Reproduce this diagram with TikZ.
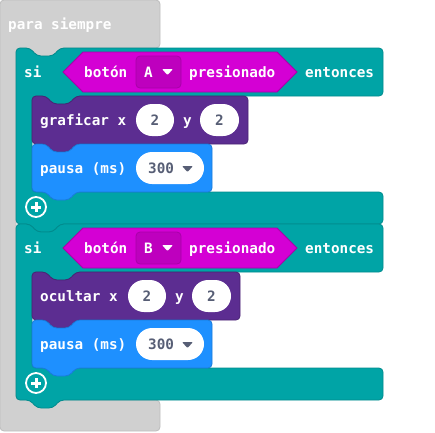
\documentclass[tikz,border=0pt]{standalone}
\usepackage{fontspec}
\newfontfamily\blockfont{DejaVu Sans Mono}
\usepackage{tikz}
\definecolor{loopgray}{HTML}{D0D0D0}
\definecolor{loopedge}{HTML}{BDBDBD}
\definecolor{logicteal}{HTML}{00A4A6}
\definecolor{logicedge}{HTML}{008B8D}
\definecolor{inputmag}{HTML}{D400D4}
\definecolor{inputedge}{HTML}{A800A8}
\definecolor{dropmag}{HTML}{BE00BE}
\definecolor{ledpurple}{HTML}{5C2D91}
\definecolor{lededge}{HTML}{4A2474}
\definecolor{basicblue}{HTML}{1E90FF}
\definecolor{basicedge}{HTML}{1A7AD9}
\definecolor{numgray}{HTML}{575E75}
\newcommand{\loopcol}{loopgray}
\newcommand{\ifcol}{logicteal}
\newcommand{\btncol}{inputmag}
\newcommand{\ledcol}{ledpurple}
\newcommand{\waitcol}{basicblue}
\tikzset{
  blocklabel/.style={anchor=base west, inner sep=0pt, text=white,
    font=\blockfont\bfseries\fontsize{14.3}{16}\selectfont},
  numlabel/.style={anchor=base, inner sep=0pt, text=numgray,
    font=\blockfont\bfseries\fontsize{14.3}{16}\selectfont},
  block/.style={rounded corners=4pt, line width=0.8pt},
  field/.style={fill=white, rounded corners=16pt},
  plusicon/.style={draw=white, line width=1.8pt},
}

\begin{document}
\begin{tikzpicture}[x=1pt, y=-1pt]
  \useasboundingbox (0, 0) rectangle (435, 432);

  \filldraw[block, fill=\loopcol, draw=loopedge] (0, 0) -- (160, 0) -- (160, 48) -- (60, 48) -- (53, 56) -- (37, 56) -- (30, 48) -- (16, 48) -- (16, 400) -- (160, 400) -- (160, 431) -- (0, 431) -- cycle;
  \node[blocklabel] (forever) at (8, 29) {para siempre};

  \filldraw[block, fill=\ifcol, draw=logicedge] (16, 48) -- (30, 48) -- (37, 56) -- (53, 56) -- (60, 48) -- (383, 48) -- (383, 96) -- (76, 96) -- (69, 104) -- (53, 104) -- (46, 96) -- (32, 96) -- (32, 192) -- (383, 192) -- (383, 224) -- (60, 224) -- (53, 232) -- (37, 232) -- (30, 224) -- (16, 224) -- cycle;
  \filldraw[fill=\btncol, draw=inputedge, line width=0.8pt] (63, 72) -- (83, 52) -- (277, 52) -- (297, 72) -- (277, 92) -- (83, 92) -- cycle;
  \filldraw[fill=dropmag, draw=inputedge, rounded corners=4pt, line width=0.8pt] (136, 56) rectangle (181, 88);
  \fill[white, rounded corners=1pt] (162, 69) -- (173, 69) -- (167.5, 75) -- cycle;
  \node[blocklabel] (si1) at (24, 77) {si};
  \node[blocklabel] (btn1) at (84, 77) {botón};
  \node[blocklabel] (btnA) at (144, 77) {A};
  \node[blocklabel] (press1) at (189, 77) {presionado};
  \node[blocklabel] (then1) at (305, 77) {entonces};

  \filldraw[block, fill=\ledcol, draw=lededge] (32, 96) -- (46, 96) -- (53, 104) -- (69, 104) -- (76, 96) -- (248, 96) -- (248, 144) -- (76, 144) -- (69, 152) -- (53, 152) -- (46, 144) -- (32, 144) -- cycle;
  \node[blocklabel] (plot) at (40, 125) {graficar x};
  \fill[field] (136, 104) rectangle (174, 136);
  \node[numlabel] (plotx) at (155, 125) {2};
  \node[blocklabel] (ploty) at (183, 125) {y};
  \fill[field] (200, 104) rectangle (239, 136);
  \node[numlabel] (plotyval) at (219.5, 125) {2};

  \filldraw[block, fill=\waitcol, draw=basicedge] (32, 144) -- (46, 144) -- (53, 152) -- (69, 152) -- (76, 144) -- (212, 144) -- (212, 192) -- (76, 192) -- (69, 200) -- (53, 200) -- (46, 192) -- (32, 192) -- cycle;
  \node[blocklabel] (pause1) at (40, 173) {pausa (ms)};
  \fill[field] (136, 152) rectangle (204, 184);
  \node[numlabel, anchor=base west] (ms1) at (148, 173) {300};
  \fill[numgray, rounded corners=1pt] (182, 166) -- (193, 166) -- (187.5, 172) -- cycle;

  \draw[plusicon] (36, 207) circle (10);
  \draw[white, line width=3pt] (31, 207) -- (41, 207);
  \draw[white, line width=3pt] (36, 202) -- (36, 212);

  \filldraw[block, fill=\ifcol, draw=logicedge] (16, 224) -- (30, 224) -- (37, 232) -- (53, 232) -- (60, 224) -- (383, 224) -- (383, 272) -- (76, 272) -- (69, 280) -- (53, 280) -- (46, 272) -- (32, 272) -- (32, 368) -- (383, 368) -- (383, 400) -- (60, 400) -- (53, 408) -- (37, 408) -- (30, 400) -- (16, 400) -- cycle;
  \filldraw[fill=\btncol, draw=inputedge, line width=0.8pt] (63, 248) -- (83, 228) -- (277, 228) -- (297, 248) -- (277, 268) -- (83, 268) -- cycle;
  \filldraw[fill=dropmag, draw=inputedge, rounded corners=4pt, line width=0.8pt] (136, 232) rectangle (181, 264);
  \fill[white, rounded corners=1pt] (162, 245) -- (173, 245) -- (167.5, 251) -- cycle;
  \node[blocklabel] (si2) at (24, 253) {si};
  \node[blocklabel] (btn2) at (84, 253) {botón};
  \node[blocklabel] (btnB) at (144, 253) {B};
  \node[blocklabel] (press2) at (189, 253) {presionado};
  \node[blocklabel] (then2) at (305, 253) {entonces};

  \filldraw[block, fill=\ledcol, draw=lededge] (32, 272) -- (46, 272) -- (53, 280) -- (69, 280) -- (76, 272) -- (240, 272) -- (240, 320) -- (76, 320) -- (69, 328) -- (53, 328) -- (46, 320) -- (32, 320) -- cycle;
  \node[blocklabel] (unplot) at (40, 301) {ocultar x};
  \fill[field] (128, 280) rectangle (166, 312);
  \node[numlabel] (unplotx) at (147, 301) {2};
  \node[blocklabel] (unploty) at (175, 301) {y};
  \fill[field] (192, 280) rectangle (231, 312);
  \node[numlabel] (unplotyval) at (211.5, 301) {2};

  \filldraw[block, fill=\waitcol, draw=basicedge] (32, 320) -- (46, 320) -- (53, 328) -- (69, 328) -- (76, 320) -- (212, 320) -- (212, 368) -- (76, 368) -- (69, 376) -- (53, 376) -- (46, 368) -- (32, 368) -- cycle;
  \node[blocklabel] (pause2) at (40, 349) {pausa (ms)};
  \fill[field] (136, 328) rectangle (204, 360);
  \node[numlabel, anchor=base west] (ms2) at (148, 349) {300};
  \fill[numgray, rounded corners=1pt] (182, 342) -- (193, 342) -- (187.5, 348) -- cycle;

  \draw[plusicon] (36, 383) circle (10);
  \draw[white, line width=3pt] (31, 383) -- (41, 383);
  \draw[white, line width=3pt] (36, 378) -- (36, 388);
\end{tikzpicture}
\end{document}
